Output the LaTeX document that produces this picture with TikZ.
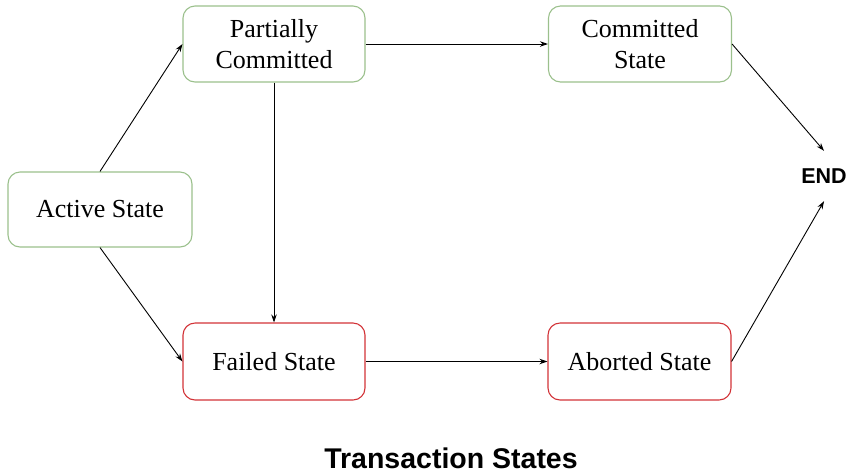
\documentclass[tikz,border=0pt]{standalone}
\usepackage{fontspec}
\setmainfont{Liberation Serif}
\setsansfont{Liberation Sans}
\usetikzlibrary{arrows.meta}
\definecolor{boxgreen}{RGB}{155,192,140}
\definecolor{boxred}{RGB}{210,50,55}
\tikzset{
  statebox/.style={draw, line width=1.1pt, rounded corners=12pt, align=center,
    inner sep=0pt, font=\fontsize{26}{31}\selectfont},
  okbox/.style={statebox, draw=boxgreen},
  badbox/.style={statebox, draw=boxred},
  conn/.style={draw=black, line width=0.9pt, -{Stealth[length=8pt,width=5.5pt]}}
}
\begin{document}
\begin{tikzpicture}[x=1pt,y=-1pt]
\useasboundingbox (0,0) rectangle (850,475);
\node[okbox, minimum width=182pt, minimum height=76pt] (pc) at (274,44) {Partially\\Committed};
\node[okbox, minimum width=183pt, minimum height=76pt] (cs) at (640,44) {Committed\\State};
\node[okbox, minimum width=184pt, minimum height=75pt] (as) at (100,209.5) {Active State};
\node[badbox, minimum width=182pt, minimum height=77pt] (fs) at (274,361.5) {Failed State};
\node[badbox, minimum width=183pt, minimum height=77pt] (ab) at (639.5,361.5) {Aborted State};
\node[inner sep=0pt, minimum height=50pt, font=\sffamily\bfseries\fontsize{21.5}{24}\selectfont] (end) at (824,176) {END};
\node[font=\sffamily\bfseries\fontsize{28.5}{32}\selectfont, anchor=base] (title) at (451,468) {Transaction States};
\draw[conn] (as.north) -- (pc.west);
\draw[conn] (as.south) -- (fs.west);
\draw[conn] (pc.south) -- (fs.north);
\draw[conn] (pc.east) -- (cs.west);
\draw[conn] (fs.east) -- (ab.west);
\draw[conn] (cs.east) -- (end.north);
\draw[conn] (ab.east) -- (end.south);
\end{tikzpicture}
\end{document}
